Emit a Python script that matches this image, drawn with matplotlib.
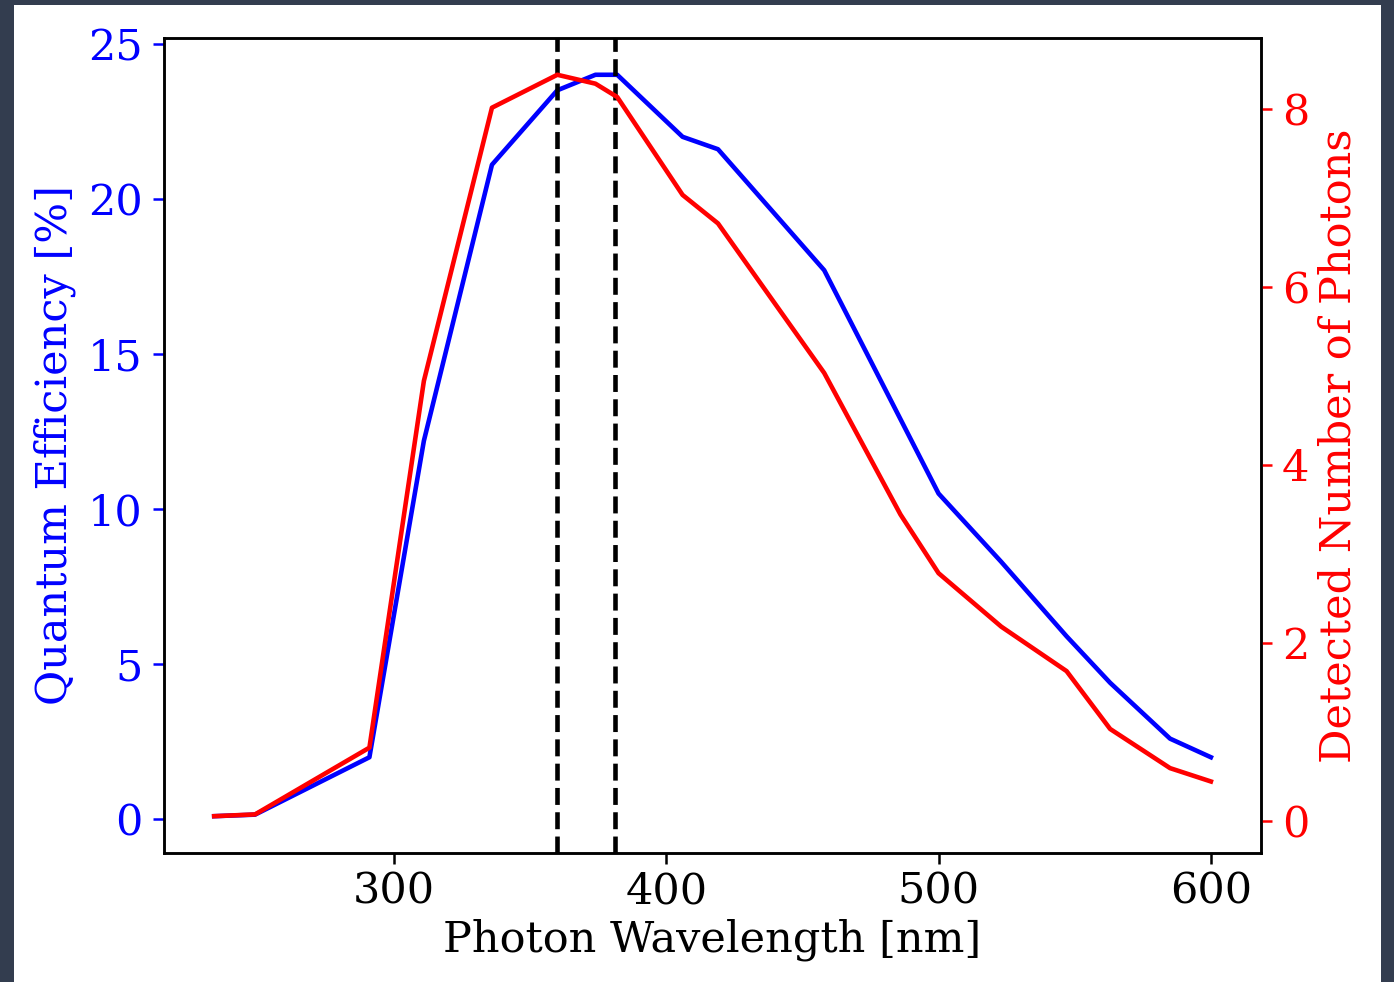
import numpy as np
import matplotlib
matplotlib.use('Agg')
import matplotlib.pyplot as plt
from matplotlib.patches import Rectangle

# wavelength grid (nm)
wavelength = [234, 249, 291, 311, 336, 360, 374, 382, 406, 419,
              458, 486, 500, 523, 547, 563, 585, 600]
# quantum efficiency [%] (left axis, blue)
qe = [0.1, 0.15, 2.0, 12.2, 21.1, 23.5, 24.0, 24.0, 22.0, 21.6,
      17.7, 12.9, 10.5, 8.3, 5.9, 4.4, 2.6, 2.0]
# detected number of photons (right axis, red)
photons = [0.05, 0.07, 0.82, 4.94, 8.01, 8.38, 8.28, 8.13, 7.03, 6.71,
           5.03, 3.44, 2.78, 2.18, 1.68, 1.03, 0.59, 0.44]
# dashed markers (nm)
vlines = [360, 381]

plt.rcParams['font.family'] = 'DejaVu Serif'
fs = 31

fig = plt.figure(figsize=(13.94, 9.82), dpi=100, facecolor='#333d4f')
# white page inside the dark frame
fig.patches.append(Rectangle((14 / 1394, 0), 1367 / 1394, 977 / 982,
                             transform=fig.transFigure, facecolor='white',
                             edgecolor='none', zorder=-10))

ax = fig.add_axes([0.1179, 0.1311, 0.9044 - 0.1179, 0.9616 - 0.1311])
ax2 = ax.twinx()

ax.plot(wavelength, qe, color='blue', lw=3.3)
ax2.plot(wavelength, photons, color='red', lw=3.3)
for v in vlines:
    ax.axvline(v, color='black', ls='--', lw=3.3)

ax.set_xlabel('Photon Wavelength [nm]', fontsize=fs, labelpad=4)
ax.set_ylabel('Quantum Efficiency [%]', fontsize=fs, color='blue', labelpad=8.8)
ax2.set_ylabel('Detected Number of Photons', fontsize=fs, color='red', labelpad=6)

ax.set_xticks([300, 400, 500, 600])
ax.set_yticks([0, 5, 10, 15, 20, 25])
ax2.set_yticks([0, 2, 4, 6, 8])

ax.tick_params(axis='x', labelsize=fs, length=7.7, width=1.8, pad=5)
ax.tick_params(axis='y', labelsize=fs, colors='blue', length=7.7, width=1.8, pad=7.7)
ax2.tick_params(axis='y', labelsize=fs, colors='red', length=7.7, width=1.8, pad=7.7)

for a in (ax, ax2):
    for s in a.spines.values():
        s.set_linewidth(1.8)

fig.savefig('out.png', dpi=100, facecolor=fig.get_facecolor())
